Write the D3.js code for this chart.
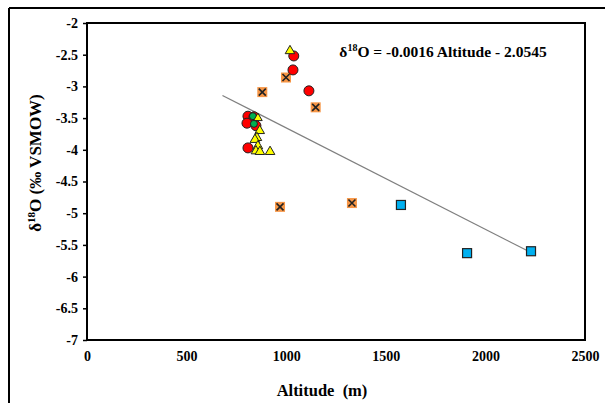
<!DOCTYPE html>
<html><head><meta charset="utf-8">
<script src="https://cdn.jsdelivr.net/npm/d3@7"></script>
<style>body{margin:0;background:#fff}svg{display:block}</style>
</head><body>
<script>
const xTicks = [0, 500, 1000, 1500, 2000, 2500];
const yTicks = [-2, -2.5, -3, -3.5, -4, -4.5, -5, -5.5, -6, -6.5, -7];
const redX = [808, 838, 803, 848, 808, 1038, 1034, 1114];
const redY = [-3.47, -3.48, -3.58, -3.62, -3.97, -2.52, -2.74, -3.07];
const greenX = [833, 838];
const greenY = [-3.47, -3.59];
const greenTriX = [858];
const greenTriY = [-3.50];
const yellowX = [867, 853, 843, 858, 848, 868, 919, 1019];
const yellowY = [-3.70, -3.81, -3.84, -3.94, -4.02, -4.03, -4.03, -2.44];
const orangeX = [880, 999, 1148, 969, 1330];
const orangeY = [-3.09, -2.86, -3.33, -4.90, -4.84];
const blueX = [1576, 1908, 2229];
const blueY = [-4.87, -5.63, -5.60];
const slope = -0.0016, intercept = -2.0545;
const trendX = [680, 2229];

const W = 605, H = 403;
const L = 87, R = 585, T = 23, B = 340;
const svg = d3.select("body").append("svg").attr("width", W).attr("height", H);
const font = "'Liberation Serif','Times New Roman',serif";

// outer border (top/left visible)
svg.append("line").attr("x1", 9).attr("x2", W).attr("y1", 8).attr("y2", 8).attr("stroke", "#000").attr("stroke-width", 2);
svg.append("line").attr("x1", 9).attr("x2", 9).attr("y1", 8).attr("y2", H).attr("stroke", "#000").attr("stroke-width", 2);

const x = d3.scaleLinear().domain([0, 2500]).range([L, R]);
const y = d3.scaleLinear().domain([-7, -2]).range([B, T]);

// y axis
const ya = svg.append("g").attr("transform", `translate(${L},0)`)
  .call(d3.axisLeft(y).tickValues(yTicks).tickSize(4).tickPadding(5).tickFormat(d => String(d)));
ya.select(".domain").remove();
ya.selectAll("text").attr("font-family", font).attr("font-weight", "bold").attr("font-size", 14).attr("fill", "#000");
ya.selectAll("line").attr("stroke", "#000").attr("stroke-width", 1.5);

// x axis
const xa = svg.append("g").attr("transform", `translate(0,${B})`)
  .call(d3.axisBottom(x).tickValues(xTicks).tickSize(0).tickPadding(11).tickFormat(d => String(d)));
xa.select(".domain").remove();
xa.selectAll("text").attr("font-family", font).attr("font-weight", "bold").attr("font-size", 14).attr("fill", "#000");

// plot frame
svg.append("rect").attr("x", L).attr("y", T).attr("width", R - L).attr("height", B - T)
  .attr("fill", "none").attr("stroke", "#000").attr("stroke-width", 2);

// trendline
svg.append("line")
  .attr("x1", x(trendX[0])).attr("y1", y(slope * trendX[0] + intercept))
  .attr("x2", x(trendX[1])).attr("y2", y(slope * trendX[1] + intercept))
  .attr("stroke", "#7f7f7f").attr("stroke-width", 1.2);

const zip = (a, b) => a.map((v, i) => [v, b[i]]);
const tri = d3.symbol().type(d3.symbolTriangle).size(40);

// blue squares
svg.append("g").selectAll("rect").data(zip(blueX, blueY)).join("rect")
  .attr("x", d => x(d[0]) - 4.5).attr("y", d => y(d[1]) - 4.5).attr("width", 9).attr("height", 9)
  .attr("fill", "#00b0f0").attr("stroke", "#222").attr("stroke-width", 1.2);

// orange crossed squares
const og = svg.append("g").selectAll("g").data(zip(orangeX, orangeY)).join("g")
  .attr("transform", d => `translate(${x(d[0])},${y(d[1])})`);
og.append("rect").attr("x", -5).attr("y", -5).attr("width", 10).attr("height", 10).attr("fill", "#f79646");
og.append("path").attr("d", "M-3.5,-3.5L3.5,3.5M-3.5,3.5L3.5,-3.5").attr("stroke", "#222").attr("stroke-width", 1.6);

// red circles
svg.append("g").selectAll("circle").data(zip(redX, redY)).join("circle")
  .attr("cx", d => x(d[0])).attr("cy", d => y(d[1])).attr("r", 5)
  .attr("fill", "#ff0000").attr("stroke", "#222").attr("stroke-width", 1);

// green circles
svg.append("g").selectAll("circle").data(zip(greenX, greenY)).join("circle")
  .attr("cx", d => x(d[0])).attr("cy", d => y(d[1])).attr("r", 3.5)
  .attr("fill", "#00b050").attr("stroke", "#222").attr("stroke-width", 1);

// yellow triangles
svg.append("g").selectAll("path").data(zip(yellowX, yellowY)).join("path")
  .attr("transform", d => `translate(${x(d[0])},${y(d[1])})`).attr("d", tri)
  .attr("fill", "#ffff00").attr("stroke", "#222").attr("stroke-width", 1);

// green triangle
svg.append("g").selectAll("path").data(zip(greenTriX, greenTriY)).join("path")
  .attr("transform", d => `translate(${x(d[0])},${y(d[1])})`).attr("d", d3.symbol().type(d3.symbolTriangle).size(32))
  .attr("fill", "#ffff00").attr("stroke", "#222").attr("stroke-width", 1);

// equation
const eq = svg.append("text").attr("x", 443).attr("y", 57).attr("text-anchor", "middle")
  .attr("font-family", font).attr("font-weight", "bold").attr("font-size", 15.5).attr("fill", "#000");
eq.append("tspan").text("δ");
eq.append("tspan").attr("dy", -6).attr("font-size", 10).text("18");
eq.append("tspan").attr("dy", 6).text("O = -0.0016 Altitude - 2.0545");

// x title
svg.append("text").attr("x", 322).attr("y", 396).attr("text-anchor", "middle")
  .attr("font-family", font).attr("font-weight", "bold").attr("font-size", 16.5).attr("fill", "#000")
  .attr("xml:space", "preserve").style("white-space", "pre").text("Altitude  (m)");

// y title
const yt = svg.append("text").attr("transform", "translate(41,163) rotate(-90)").attr("text-anchor", "middle")
  .attr("font-family", font).attr("font-weight", "bold").attr("font-size", 17).attr("fill", "#000");
yt.append("tspan").text("δ");
yt.append("tspan").attr("dy", -6).attr("font-size", 11).text("18");
yt.append("tspan").attr("dy", 6).text("O (‰ VSMOW)");
</script>
</body></html>
